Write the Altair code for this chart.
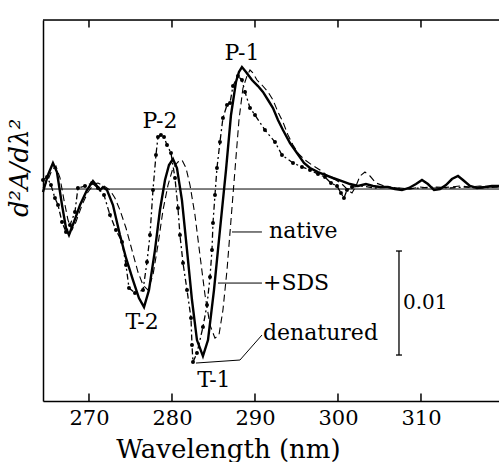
import altair as alt
import pandas as pd

# ---- data (wavelength in nm, d2A/dλ2 in units of 1e-3) ----
wl_sds = [264.46, 265.06, 265.66, 266.14, 266.75, 267.23, 267.59, 268.19, 268.92, 269.76,
          270.48, 270.96, 271.33, 271.69, 272.17, 272.89, 273.73, 274.46, 275.30, 276.02,
          276.63, 277.23, 277.95, 278.55, 279.16, 279.64, 280.12, 280.60, 281.20, 281.81,
          282.41, 283.01, 283.73, 284.34, 285.06, 285.78, 286.51, 287.11, 287.71, 288.07,
          288.43, 288.92, 289.64, 290.36, 290.96, 291.57, 292.17, 292.77, 293.37, 294.22,
          295.06, 295.90, 296.63, 297.59, 298.43, 299.40, 300.48, 301.45, 302.41, 303.37,
          304.22, 305.06, 306.02, 306.87, 307.71, 308.55, 309.40, 310.12, 310.84, 311.57,
          312.29, 313.01, 313.73, 314.46, 315.06, 315.90, 316.75, 317.71, 318.55, 319.40]
v_sds = [-0.29, 1.35, 2.50, 1.63, -1.54, -3.75, -4.42, -3.17, -1.54, -0.10,
         0.77, 0.29, -0.10, 0.19, -0.10, -1.54, -4.42, -6.63, -8.75, -10.48,
         -11.35, -9.71, -5.87, -2.02, 0.87, 2.31, 2.88, 2.02, -1.06, -5.87,
         -10.67, -14.52, -16.06, -14.52, -9.71, -3.94, 1.83, 7.12, 10.29, 11.25,
         11.73, 11.25, 10.48, 9.90, 9.33, 8.56, 7.79, 6.63, 5.67, 4.42,
         3.46, 2.50, 2.02, 1.63, 1.35, 1.06, 0.77, 0.48, 0.29, 0.48,
         0.29, 0.19, 0.19, 0.00, -0.10, 0.10, 0.48, 0.87, 0.48, -0.10,
         0.00, 0.38, 0.96, 1.25, 0.87, 0.29, 0.10, 0.19, 0.29, 0.29]

wl_native = [264.46, 265.06, 265.54, 266.02, 266.51, 266.99, 267.47, 267.95, 268.43, 269.16,
             269.88, 270.60, 271.08, 271.81, 272.53, 273.13, 273.73, 274.46, 275.18, 275.90,
             276.51, 277.11, 277.71, 278.31, 278.92, 279.52, 280.12, 280.72, 281.20, 281.69,
             282.17, 282.77, 283.37, 283.98, 284.58, 285.18, 285.66, 286.14, 286.63, 287.11,
             287.59, 288.07, 288.55, 289.04, 289.40, 289.76, 290.24, 290.84, 291.57, 292.17,
             292.77, 293.37, 293.98, 294.58, 295.18, 296.02, 296.87, 297.83, 298.80, 299.76,
             300.48, 301.20, 301.69, 302.17, 302.65, 303.25, 303.86, 304.58, 305.54, 306.51,
             307.47, 308.67, 309.88, 311.08, 312.29, 313.49, 314.70, 315.90, 317.11, 318.31, 319.40]
v_native = [0.10, 0.87, 1.83, 2.21, 1.06, -1.06, -2.98, -3.94, -3.17, -1.54,
            -0.29, 0.48, 0.58, 0.29, -0.10, -0.87, -2.02, -3.75, -5.87, -7.98,
            -9.23, -9.71, -8.27, -5.38, -2.02, 0.38, 2.02, 2.60, 2.79, 2.02,
            0.38, -2.50, -6.35, -10.19, -13.08, -14.33, -14.04, -11.63, -7.79, -2.98,
            1.83, 6.63, 9.71, 10.87, 11.44, 11.15, 10.48, 10.00, 9.33, 8.56,
            7.40, 6.44, 5.19, 4.23, 3.46, 2.79, 2.31, 1.83, 1.25, 0.87,
            0.48, -0.10, -0.38, 0.29, 1.25, 1.63, 1.25, 0.58, 0.29, 0.10,
            0.10, 0.00, 0.19, 0.10, 0.10, 0.19, 0.29, 0.19, 0.29, 0.19, 0.19]

wl_den = [264.46, 264.94, 265.42, 265.90, 266.27, 266.75, 267.23, 267.71, 268.31, 268.67,
          269.52, 270.36, 271.08, 271.81, 272.53, 273.25, 273.98, 274.46, 274.82, 275.54,
          276.51, 276.99, 277.35, 277.71, 278.07, 278.31, 278.67, 279.04, 279.40, 279.88,
          280.36, 280.72, 280.96, 281.33, 281.81, 282.29, 282.41, 282.53, 283.01, 283.73,
          284.22, 284.58, 284.82, 284.94, 285.18, 285.42, 285.78, 286.14, 286.63, 286.99,
          287.35, 287.95, 288.43, 288.80, 289.40, 290.00, 291.20, 292.41, 293.25, 294.58,
          295.66, 296.63, 297.59, 298.43, 299.16, 299.88, 300.36, 300.72, 301.08, 301.69,
          302.89, 304.46, 306.27, 308.07, 309.88, 311.69, 313.49, 315.30, 317.11, 319.40]
v_den = [0.87, 1.15, 0.38, -0.87, -1.54, -3.17, -4.13, -3.46, -2.21, 0.10,
         0.29, 0.58, 0.10, -0.58, -2.50, -3.94, -5.10, -7.31, -9.52, -10.00,
         -9.71, -7.02, -4.42, -0.10, 3.27, 5.00, 5.19, 5.00, 4.23, 3.46,
         1.06, -1.83, -4.42, -7.12, -9.71, -12.40, -15.00, -16.63, -15.77, -13.27,
         -11.15, -8.46, -5.87, -3.27, -0.58, 2.02, 4.52, 6.83, 8.08, 8.27,
         9.90, 10.87, 10.48, 9.33, 7.79, 7.12, 5.67, 4.52, 3.27, 2.50,
         2.12, 1.83, 1.44, 1.15, 0.58, 0.29, -0.38, -0.87, -0.10, 0.19,
         0.29, 0.10, 0.19, 0.00, 0.10, 0.19, 0.10, 0.19, 0.10, 0.19]

x_ticks = [270, 280, 290, 300, 310]

peak_labels = ["P-1", "P-2", "T-2", "T-1"]
peak_wl = [288.43, 278.55, 276.39, 285.06]
peak_v = [13.08, 6.54, -12.79, -18.37]

curve_labels = ["native", "+SDS", "denatured"]
curve_label_wl = [291.69, 290.96, 290.96]
curve_label_v = [-4.04, -9.04, -13.85]

leader_id = ["native", "native", "sds", "sds", "den", "den", "den"]
leader_wl = [287.23, 290.84, 285.54, 290.84, 282.89, 288.19, 290.84]
leader_v = [-4.13, -4.13, -9.04, -9.04, -16.73, -16.44, -14.04]

bar_wl = 307.35
bar_v0, bar_v1 = -5.96, -15.96
bar_label = "0.01"

Y_MIN, Y_MAX = -20.38, 16.25
TICK_LEN = 0.72

FONT = "DejaVu Serif"

df_sds = pd.DataFrame({"wl": wl_sds, "v": v_sds})
df_nat = pd.DataFrame({"wl": wl_native, "v": v_native})
df_den = pd.DataFrame({"wl": wl_den, "v": v_den})
df_peaks = pd.DataFrame({"t": peak_labels, "wl": peak_wl, "v": peak_v})
df_clab = pd.DataFrame({"t": curve_labels, "wl": curve_label_wl, "v": curve_label_v})
df_lead = pd.DataFrame({"id": leader_id, "wl": leader_wl, "v": leader_v,
                        "o": list(range(len(leader_id)))})
df_bticks = pd.DataFrame({"wl": [float(t) for t in x_ticks],
                          "v0": [Y_MIN] * 5, "v1": [Y_MIN + TICK_LEN] * 5})
df_tticks = pd.DataFrame({"wl": [float(t) for t in x_ticks],
                          "v0": [Y_MAX - TICK_LEN] * 5, "v1": [Y_MAX] * 5})
df_frame = pd.DataFrame({"v": [Y_MAX]})
df_bar = pd.DataFrame({"wl": [bar_wl], "v0": [bar_v0], "v1": [bar_v1],
                       "wa": [bar_wl - 0.36], "wb": [bar_wl + 0.36],
                       "vm": [(bar_v0 + bar_v1) / 2], "wt": [bar_wl + 0.48], "t": [bar_label]})

xs = alt.Scale(domain=[264.46, 319.40], nice=False, zero=False)
ys = alt.Scale(domain=[Y_MIN, Y_MAX], nice=False, zero=False)

X_AXIS = alt.Axis(
    values=x_ticks, tickSize=0, ticks=False, domainWidth=1.5, domainColor="black",
    labelFont=FONT, labelFontSize=21, labelColor="black", labelPadding=6,
    title="Wavelength (nm)", titleFont=FONT, titleFontSize=26, titleFontWeight="normal",
    titleColor="black", titlePadding=8, titleX=185, titleAlign="center", titleAnchor="start",
    grid=False, format="d")
Y_AXIS = alt.Axis(labels=False, ticks=False, domainWidth=1.5, domainColor="black",
                  title=None, grid=False)


def X(field):
    return alt.X(field, type="quantitative", scale=xs, axis=X_AXIS)


def Y(field):
    return alt.Y(field, type="quantitative", scale=ys, axis=Y_AXIS)


zero = alt.Chart(pd.DataFrame({"v": [0.0]})).mark_rule(color="black", strokeWidth=1).encode(
    y=Y("v"))
top_frame = alt.Chart(df_frame).mark_rule(color="black", strokeWidth=1.5).encode(y=Y("v"))

nat = alt.Chart(df_nat).mark_line(color="black", strokeWidth=1.1, strokeDash=[7, 4]).encode(
    x=X("wl"), y=Y("v"))
sds = alt.Chart(df_sds).mark_line(color="black", strokeWidth=2.4).encode(x=X("wl"), y=Y("v"))
den = alt.Chart(df_den).mark_line(color="black", strokeWidth=1.3, strokeDash=[6, 3, 2, 3]).encode(
    x=X("wl"), y=Y("v"))
dots = alt.Chart(df_den).transform_filter("datum.wl < 302").mark_circle(
    color="black", size=16, opacity=1).encode(x=X("wl"), y=Y("v"))

bticks = alt.Chart(df_bticks).mark_rule(color="black", strokeWidth=1.5).encode(
    x=X("wl"), y=Y("v0"), y2="v1")
tticks = alt.Chart(df_tticks).mark_rule(color="black", strokeWidth=1.5).encode(
    x=X("wl"), y=Y("v0"), y2="v1")

leaders = alt.Chart(df_lead).mark_line(color="black", strokeWidth=1).encode(
    x=X("wl"), y=Y("v"), detail="id:N", order="o:Q")

bar = alt.Chart(df_bar).mark_rule(color="black", strokeWidth=1.3).encode(
    x=X("wl"), y=Y("v0"), y2="v1")
cap1 = alt.Chart(df_bar).mark_rule(color="black", strokeWidth=1.3).encode(
    x=X("wa"), x2="wb", y=Y("v0"))
cap2 = alt.Chart(df_bar).mark_rule(color="black", strokeWidth=1.3).encode(
    x=X("wa"), x2="wb", y=Y("v1"))
bar_text = alt.Chart(df_bar).mark_text(font=FONT, fontSize=20, align="left", baseline="middle",
                                       color="black").encode(
    x=X("wt"), y=Y("vm"), text="t:N")

peaks = alt.Chart(df_peaks).mark_text(font=FONT, fontSize=22, align="center", baseline="middle",
                                      color="black").encode(x=X("wl"), y=Y("v"), text="t:N")
clabs = alt.Chart(df_clab).mark_text(font=FONT, fontSize=22, align="left", baseline="middle",
                                     color="black").encode(x=X("wl"), y=Y("v"), text="t:N")

ytitle = alt.Chart(pd.DataFrame({"t": ["d²A/dλ²"]})).mark_text(
    font=FONT, fontSize=26, fontStyle="italic", angle=270, align="center", baseline="middle",
    color="black").encode(x=alt.value(-23), y=alt.value(148), text="t:N")

chart = alt.layer(
    zero, top_frame, nat, sds, den, dots, leaders, bar, cap1, cap2, bar_text, peaks, clabs,
    bticks, tticks, ytitle
).properties(
    width=456, height=381,
    autosize=alt.AutoSizeParams(type="none"),
    padding={"left": 43, "top": 20, "right": 0, "bottom": 61},
).configure_view(stroke=None).configure(background="white")

chart.save("out.html", embed_options={"renderer": "svg", "actions": False})
